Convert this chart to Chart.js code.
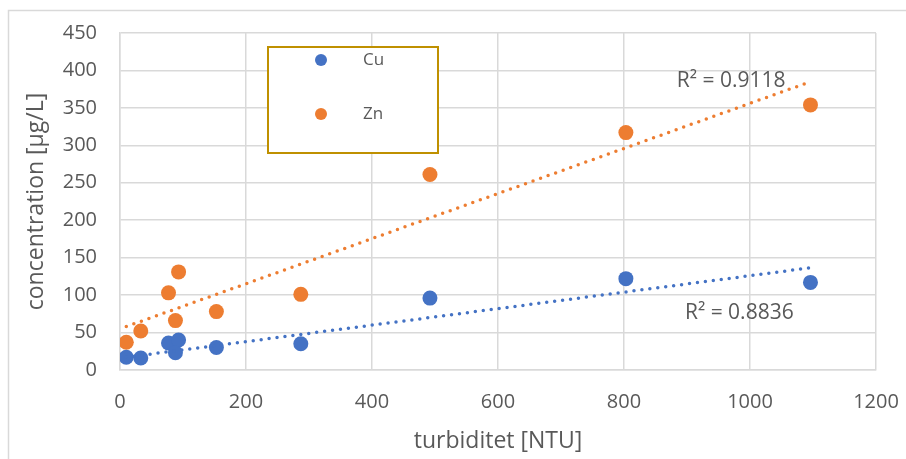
<!DOCTYPE html>
<html>
<head>
<meta charset="utf-8">
<script src="https://cdn.jsdelivr.net/npm/chart.js@4/dist/chart.umd.min.js"></script>
<style>
  html, body { margin: 0; padding: 0; background: #fff; }
  #wrap { width: 906px; height: 459px; }
</style>
</head>
<body>
<div id="wrap"><canvas id="turbChart" width="906" height="459"></canvas></div>
<script>
// Datos
const turbidity = [10, 33, 77, 93, 88, 153, 287, 492, 803, 1096];
const cuValues = [17, 16, 36, 40, 23, 30, 35, 96, 122, 117];
const znValues = [37, 52, 103, 131, 66, 78, 101, 261, 317, 354];

// Lineas de tendencia (extremos)
const cuTrend = [[10, 17], [1096, 136.5]];
const znTrend = [[10, 58], [1096, 385]];
const r2Labels = ['R² = 0.8836', 'R² = 0.9118'];

const xTicks = [0, 200, 400, 600, 800, 1000, 1200];
const yTicks = [0, 50, 100, 150, 200, 250, 300, 350, 400, 450];

const blue = '#4472C4';
const orange = '#ED7D31';
const textColor = '#595959';
const gridColor = '#D9D9D9';
const fontFamily = '"Open Sans", "Liberation Sans", sans-serif';

const toPoints = (xs, ys) => xs.map((x, i) => ({ x: x, y: ys[i] }));
const trendPoints = t => t.map(p => ({ x: p[0], y: p[1] }));

// Borde exterior, leyenda y etiquetas R²
const decorations = {
    id: 'decorations',
    beforeDraw(chart) {
        const c = chart.ctx;
        c.save();
        c.fillStyle = '#fff';
        c.fillRect(0, 0, chart.width, chart.height);
        c.strokeStyle = gridColor;
        c.lineWidth = 1.5;
        c.strokeRect(8.5, 10.5, 1200, 1200);
        c.restore();
    },
    afterDraw(chart) {
        const c = chart.ctx;
        const xs = chart.scales.x, ys = chart.scales.y;
        c.save();
        // leyenda
        c.fillStyle = '#fff';
        c.fillRect(268, 47, 170, 106);
        c.strokeStyle = '#BF9000';
        c.lineWidth = 2;
        c.strokeRect(268, 47, 170, 106);
        const items = [chart.data.datasets[0], chart.data.datasets[1]];
        c.font = '17px ' + fontFamily;
        c.textBaseline = 'middle';
        items.forEach((ds, i) => {
            const cy = 60 + i * 54;
            c.fillStyle = ds.backgroundColor;
            c.beginPath();
            c.arc(321, cy, 6, 0, Math.PI * 2);
            c.fill();
            c.fillStyle = textColor;
            c.fillText(ds.label, 363, cy);
        });
        // R²
        c.font = '21px ' + fontFamily;
        c.textAlign = 'center';
        c.fillStyle = textColor;
        c.fillText(r2Labels[1], xs.getPixelForValue(970), ys.getPixelForValue(386));
        c.fillText(r2Labels[0], xs.getPixelForValue(983), ys.getPixelForValue(76));
        c.restore();
    }
};

const ctx = document.getElementById('turbChart').getContext('2d');
const chart = new Chart(ctx, {
    type: 'scatter',
    data: {
        datasets: [
            {
                label: 'Cu',
                data: toPoints(turbidity, cuValues),
                backgroundColor: blue,
                borderWidth: 0,
                pointRadius: 7.5,
                order: 1
            },
            {
                label: 'Zn',
                data: toPoints(turbidity, znValues),
                backgroundColor: orange,
                borderWidth: 0,
                pointRadius: 7.5,
                order: 1
            },
            {
                label: 'Cu trend',
                type: 'line',
                data: trendPoints(cuTrend),
                borderColor: blue,
                borderWidth: 3.5,
                borderDash: [0, 8],
                borderCapStyle: 'round',
                pointRadius: 0,
                fill: false,
                order: 0
            },
            {
                label: 'Zn trend',
                type: 'line',
                data: trendPoints(znTrend),
                borderColor: orange,
                borderWidth: 3.5,
                borderDash: [0, 8],
                borderCapStyle: 'round',
                pointRadius: 0,
                fill: false,
                order: 0
            }
        ]
    },
    options: {
        responsive: false,
        animation: false,
        layout: { padding: { left: 8, top: 33, right: 30, bottom: 0 } },
        plugins: {
            legend: { display: false },
            tooltip: { enabled: false }
        },
        scales: {
            x: {
                type: 'linear',
                min: 0,
                max: 1200,
                afterBuildTicks: s => { s.ticks = xTicks.map(v => ({ value: v })); },
                afterFit: s => { s.height = 89; s.paddingLeft = 0; s.paddingRight = 0; },
                grid: { color: gridColor, lineWidth: 1.5, drawTicks: false },
                border: { color: gridColor, width: 1.5 },
                ticks: {
                    color: textColor,
                    font: { family: fontFamily, size: 20 },
                    padding: 20,
                    maxRotation: 0,
                    callback: v => String(v)
                },
                title: {
                    display: true,
                    text: 'turbiditet [NTU]',
                    color: textColor,
                    font: { family: fontFamily, size: 23 },
                    padding: { top: 0, bottom: 4 }
                }
            },
            y: {
                type: 'linear',
                min: 0,
                max: 450,
                afterBuildTicks: s => { s.ticks = yTicks.map(v => ({ value: v })); },
                afterFit: s => { s.width = 112; s.paddingTop = 0; s.paddingBottom = 0; },
                grid: { color: gridColor, lineWidth: 1.5, drawTicks: false },
                border: { color: gridColor, width: 1.5 },
                ticks: {
                    color: textColor,
                    font: { family: fontFamily, size: 20 },
                    padding: 23,
                    callback: v => String(v)
                },
                title: {
                    display: true,
                    text: 'concentration [µg/L]',
                    color: textColor,
                    font: { family: fontFamily, size: 23 },
                    padding: { top: 15, bottom: 0 }
                }
            }
        }
    },
    plugins: [decorations]
});
</script>
</body>
</html>
